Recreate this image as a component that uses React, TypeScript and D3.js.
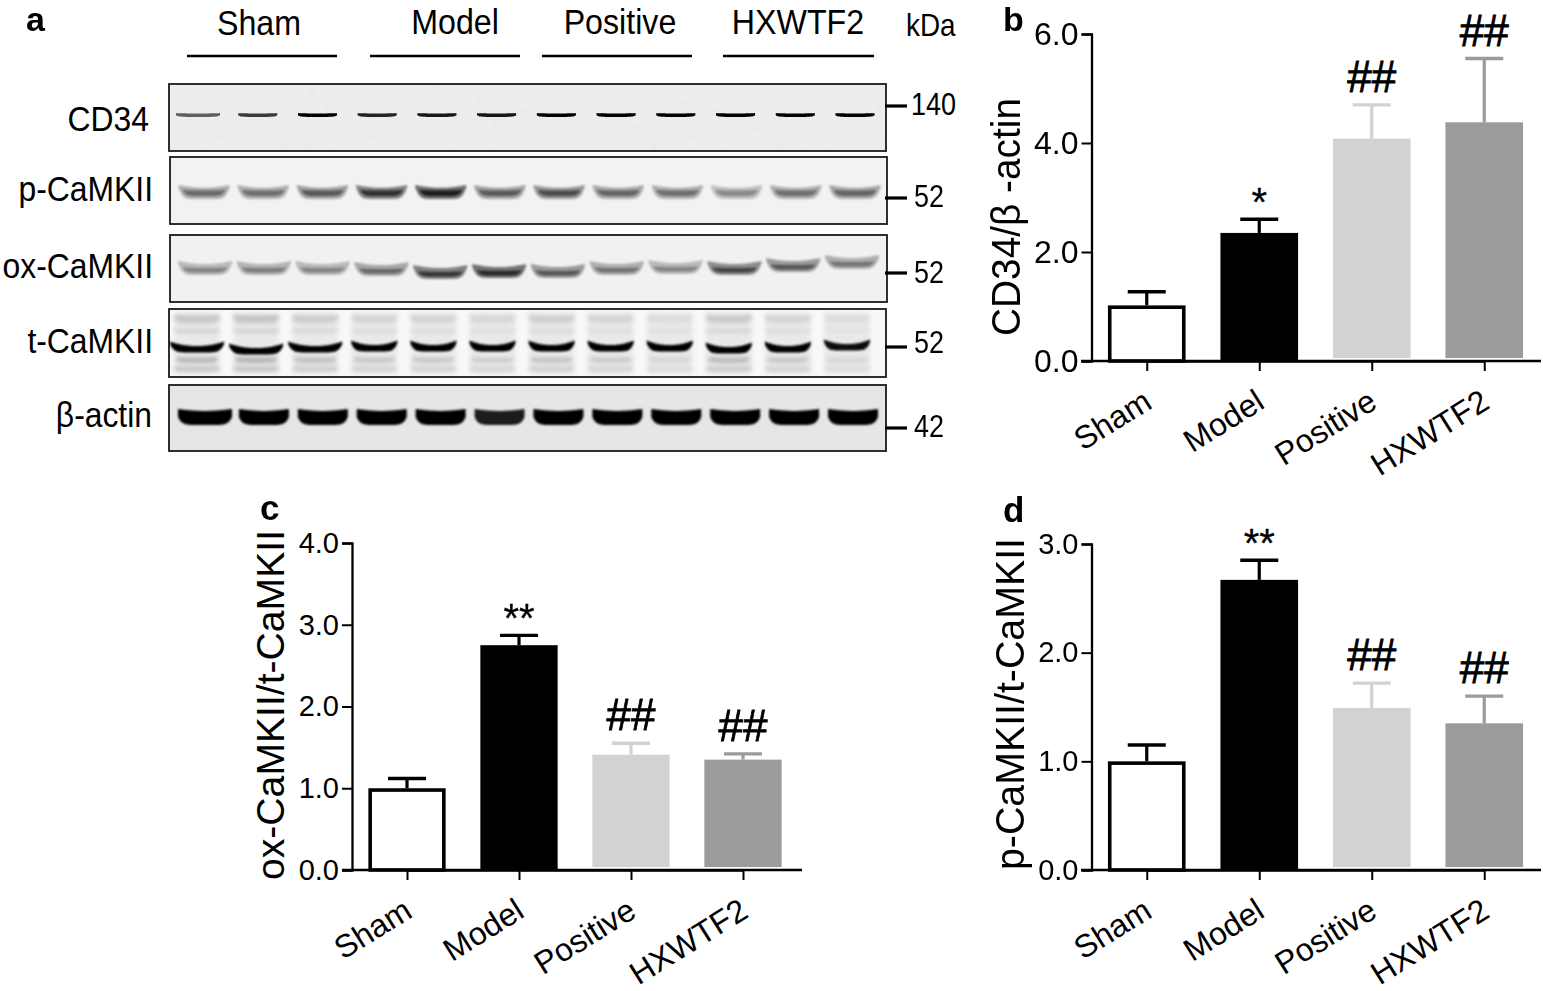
import React, { useEffect, useRef } from "react";
import * as d3 from "d3";

const groups = ["Sham", "Model", "Positive", "HXWTF2"];
const barFills = ["#ffffff", "#000000", "#d2d2d2", "#9b9b9b"];
const barStrokes = ["#000000", "#000000", "#d2d2d2", "#9b9b9b"];

const cd34Means = [1.02, 2.35, 4.08, 4.38];
const cd34Tops = [1.27, 2.6, 4.7, 5.55];
const cd34Marks = ["", "*", "##", "##"];
const cd34Ticks = [0, 2, 4, 6];

const oxMeans = [1.0, 2.75, 1.41, 1.35];
const oxTops = [1.12, 2.87, 1.55, 1.42];
const oxMarks = ["", "**", "##", "##"];
const oxTicks = [0, 1, 2, 3, 4];

const pMeans = [1.0, 2.67, 1.49, 1.35];
const pTops = [1.15, 2.85, 1.72, 1.6];
const pMarks = ["", "**", "##", "##"];
const pTicks = [0, 1, 2, 3];

const blotNames = ["CD34", "p-CaMKII", "ox-CaMKII", "t-CaMKII", "β-actin"];
const blotWeights = ["140", "52", "52", "52", "42"];

const cd34Dark = [0.6, 0.75, 1, 0.85, 0.9, 0.9, 1, 1, 1, 1, 1, 1];
const pDark = [0.52, 0.5, 0.6, 0.85, 1, 0.6, 0.68, 0.55, 0.5, 0.38, 0.5, 0.55];
const oxDark = [0.42, 0.45, 0.42, 0.55, 0.85, 0.95, 0.65, 0.5, 0.42, 0.75, 0.65, 0.5];
const tDark = [1, 1, 1, 1, 1, 1, 1, 1, 1, 1, 1, 0.95];
const tFaint = [0.24, 0.26, 0.2, 0.16, 0.16, 0.14, 0.18, 0.15, 0.1, 0.22, 0.16, 0.09];
const actinDark = [1, 1, 1, 1, 1, 0.88, 1, 1, 1, 1, 1, 1];
const oxShift = [0, 0, 0, 1, 4, 3, 3, 0, -1, 0, -3, -6];
const tShift = [0, 2, 0, -1, -1, -1, -1, -1, -1, 1, 0, -2];

const W = 1543;
const H = 991;
const FONT = "'Liberation Sans', Arial, sans-serif";

const lanes = d3.range(12);
const samples = d3.range(-1, 1.001, 0.05);

function bandPath(cx: number, cy: number, w: number, h: number, sag: number, pinch = 0.85) {
  return d3
    .area<number>()
    .x((t) => cx + (t * w) / 2)
    .y0((t) => cy - h / 2 + h * sag * (1 - t * t))
    .y1((t) => cy + h / 2 - h * pinch * Math.pow(Math.abs(t), 7))
    .curve(d3.curveCatmullRom)(samples) as string;
}

function Axis({ kind, scale, ticks, at, size }: any) {
  const ref = useRef<SVGGElement>(null);
  useEffect(() => {
    const sel = d3.select(ref.current as SVGGElement);
    if (kind === "y") {
      sel.call(
        d3.axisLeft(scale).tickValues(ticks).tickSize(10).tickPadding(3).tickFormat(d3.format(".1f")) as any
      );
    } else {
      sel.call(d3.axisBottom(scale).tickSize(10).tickSizeOuter(0).tickFormat(() => "") as any);
    }
    sel.selectAll("path").attr("stroke", "#000").attr("stroke-width", 2.3);
    sel.selectAll("line").attr("stroke", "#000").attr("stroke-width", 2);
    sel.selectAll("text").attr("font-family", FONT).attr("font-size", size).attr("fill", "#000");
  }, []);
  return <g ref={ref} transform={at} />;
}

function Chart(props: any) {
  const { x0, span, axisX, y0, yTop, maxV, ticks, means, tops, marks, label, labelX, labelY, labelLen, labelSize, tickFont, axisEnd, axisStart, letter, letterX, letterY, letterSize } = props;
  const y = d3.scaleLinear().domain([0, maxV]).range([y0, yTop]);
  const xb = d3
    .scaleBand<string>()
    .domain(groups)
    .range([x0, x0 + span])
    .paddingInner(0.31)
    .paddingOuter(0.155);
  const bw = xb.bandwidth();
  const step = span / 4;
  return (
    <g>
      {groups.map((g, i) => {
        const cx = (xb(g) as number) + bw / 2;
        const solidBottom = i >= 2 ? y0 - 3 : y0;
        const hash = marks[i] && marks[i][0] === "#";
        return (
          <g key={g}>
            <line x1={cx} x2={cx} y1={y(tops[i])} y2={y(means[i])} stroke={barStrokes[i]} strokeWidth={3.2} />
            <line x1={cx - 19} x2={cx + 19} y1={y(tops[i])} y2={y(tops[i])} stroke={barStrokes[i]} strokeWidth={3.4} />
            <rect
              x={(xb(g) as number) + (i === 0 ? 1.8 : 0)}
              y={y(means[i]) + (i === 0 ? 1.8 : 0)}
              width={i === 0 ? bw - 3.6 : bw}
              height={solidBottom - y(means[i]) - (i === 0 ? 1.8 : 0)}
              fill={barFills[i]}
              stroke={i === 0 ? "#000" : "none"}
              strokeWidth={3.6}
            />
            {marks[i] && (
              <text
                x={cx}
                y={y(tops[i]) + (hash ? -13 : -3)}
                textAnchor="middle"
                fontFamily={FONT}
                fontSize={hash ? 44 : 40}
                fill="#000"
                stroke="#000"
                strokeWidth={hash ? 0.8 : 0.3}
              >
                {marks[i]}
              </text>
            )}
            <text
              transform={`translate(${cx + 7},${y0 + 46}) rotate(-32)`}
              textAnchor="end"
              fontFamily={FONT}
              fontSize={32}
              fill="#000"
            >
              {g}
            </text>
          </g>
        );
      })}
      <Axis kind="y" scale={y} ticks={ticks} at={`translate(${axisX},0)`} size={tickFont} />
      <Axis
        kind="x"
        scale={d3.scalePoint<string>().domain(groups).range([x0 + step / 2, x0 + span - step / 2])}
        at={`translate(0,${y0})`}
        size={tickFont}
      />
      <line x1={axisStart} x2={axisEnd} y1={y0} y2={y0} stroke="#000" strokeWidth={2.4} />
      <text
        transform={`translate(${labelX},${labelY}) rotate(-90)`}
        textAnchor="middle"
        fontFamily={FONT}
        fontSize={labelSize}
        textLength={labelLen}
        lengthAdjust="spacingAndGlyphs"
        fill="#000"
      >
        {label}
      </text>
      <text x={letterX} y={letterY} fontFamily={FONT} fontWeight="bold" fontSize={letterSize} fill="#000">
        {letter}
      </text>
    </g>
  );
}

function Frame({ x, y, w, h, bg }: any) {
  return <rect x={x} y={y} width={w} height={h} fill={bg} stroke="#1a1a1a" strokeWidth={1.8} />;
}

function Blots() {
  const laneX = d3.scaleLinear().domain([0, 11]);
  const cd = laneX.copy().range([198, 855]);
  const px = laneX.copy().range([204, 855]);
  const ox = laneX.copy().range([205, 852]);
  const tx = laneX.copy().range([197, 847]);
  const ax = laneX.copy().range([205, 853]);
  return (
    <g>
      <Frame x={169} y={84} w={717} h={67} bg="#eeeeee" />
      <Frame x={170} y={157} w={717} h={67} bg="#f2f2f2" />
      <Frame x={170} y={235} w={717} h={67} bg="#f1f1f1" />
      <Frame x={169} y={309} w={717} h={68} bg="#f8f8f8" />
      <Frame x={169} y={385} w={717} h={66} bg="#e6e6e6" />
      <rect x={170} y={85} width={715} height={65} filter="url(#noise)" opacity={0.06} />
      <g filter="url(#blurThin)">
        {lanes.map((i) => (
          <path key={i} d={bandPath(cd(i), 115, i === 0 ? 44 : 39, 3.8, 0.1, 0.4)} fill="#000" opacity={cd34Dark[i]} />
        ))}
      </g>
      <g filter="url(#blur)">
        {lanes.map((i) => (
          <g key={i}>
            <path d={bandPath(px(i), 192, 51, 14, 0.2)} fill="#000" opacity={pDark[i] * 0.55} />
            <path d={bandPath(px(i), 193, 42, 6, 0.1)} fill="#000" opacity={pDark[i] * 0.75} />
          </g>
        ))}
        {lanes.map((i) => (
          <g key={i}>
            <path d={bandPath(ox(i), 268 + oxShift[i], 54, 14, 0.22)} fill="#000" opacity={oxDark[i] * 0.55} />
            <path d={bandPath(ox(i), 270 + oxShift[i], 44, 5, 0.1)} fill="#000" opacity={oxDark[i] * 0.7} />
          </g>
        ))}
      </g>
      <g filter="url(#blurWide)">
        {lanes.map((i) => (
          <g key={i}>
            <rect x={tx(i) - 23} y={313} width={46} height={61} fill="#000" opacity={0.06} />
            <path d={bandPath(tx(i), 319, 46, 9, 0.05, 0.4)} fill="#000" opacity={tFaint[i] * 0.6} />
            <path d={bandPath(tx(i), 331, 46, 4, 0.05, 0.4)} fill="#000" opacity={tFaint[i] * 0.5} />
            <path d={bandPath(tx(i), 360, 42, 5, 0.05, 0.4)} fill="#000" opacity={tFaint[i] * 1.1} />
            <path d={bandPath(tx(i), 369, 46, 5, 0.05, 0.4)} fill="#000" opacity={tFaint[i] * 0.7} />
          </g>
        ))}
      </g>
      <g filter="url(#blurBand)">
        {lanes.map((i) => (
          <path key={i} d={bandPath(tx(i), 347 + tShift[i], i < 3 ? 54 : 46, 11, 0.42, 0.75)} fill="#000" opacity={tDark[i]} />
        ))}
        {lanes.map((i) => (
          <path key={i} d={bandPath(ax(i), 417, i === 0 ? 54 : 50, 16, 0.12, 0.5)} fill="#000" opacity={actinDark[i]} />
        ))}
      </g>
      {blotNames.map((n, i) => (
        <g key={n}>
          <text
            transform={`translate(${[149, 153, 153, 153, 152][i]},${[131, 201, 278, 353, 427][i]}) scale(0.91,1)`}
            textAnchor="end"
            fontFamily={FONT}
            fontSize={35}
            fill="#000"
          >
            {n}
          </text>
          <line
            x1={885}
            x2={907}
            y1={[106, 198, 273, 347, 428][i]}
            y2={[106, 198, 273, 347, 428][i]}
            stroke="#000"
            strokeWidth={3.2}
          />
          <text
            transform={`translate(${i === 0 ? 911 : 914},${[115, 207, 283, 353, 437][i]}) scale(0.87,1)`}
            fontFamily={FONT}
            fontSize={31}
            fill="#000"
          >
            {blotWeights[i]}
          </text>
        </g>
      ))}
      {groups.map((g, i) => (
        <g key={g}>
          <text
            transform={`translate(${[259, 455, 620, 798][i]},${[35, 34, 34, 34][i]}) scale(0.92,1)`}
            textAnchor="middle"
            fontFamily={FONT}
            fontSize={35}
            fill="#000"
          >
            {g}
          </text>
          <line
            x1={[187, 370, 542, 723][i]}
            x2={[337, 520, 692, 874][i]}
            y1={56}
            y2={56}
            stroke="#000"
            strokeWidth={2.6}
          />
        </g>
      ))}
      <text transform="translate(906,36) scale(0.9,1)" fontFamily={FONT} fontSize={31} fill="#000">
        kDa
      </text>
      <text x={26} y={31} fontFamily={FONT} fontWeight="bold" fontSize={34} fill="#000">
        a
      </text>
    </g>
  );
}

export default function App() {
  return (
    <svg
      width={W}
      height={H}
      viewBox={`0 0 ${W} ${H}`}
      style={{ position: "absolute", left: 0, top: 0, background: "#fff" }}
    >
      <defs>
        <filter id="blurThin" x="-20%" y="-50%" width="140%" height="200%">
          <feGaussianBlur stdDeviation="0.7" />
        </filter>
        <filter id="blurBand" x="-20%" y="-50%" width="140%" height="200%">
          <feGaussianBlur stdDeviation="1" />
        </filter>
        <filter id="blur" x="-20%" y="-50%" width="140%" height="200%">
          <feGaussianBlur stdDeviation="1.3" />
        </filter>
        <filter id="blurWide" x="-20%" y="-50%" width="140%" height="200%">
          <feGaussianBlur stdDeviation="2" />
        </filter>
        <filter id="noise" x="0" y="0" width="100%" height="100%">
          <feTurbulence type="fractalNoise" baseFrequency="0.12" numOctaves="2" seed="4" />
          <feColorMatrix type="saturate" values="0" />
        </filter>
      </defs>
      <rect width={W} height={H} fill="#fff" />
      <Blots />
      <Chart
        x0={1090.5}
        span={450}
        axisX={1091.5}
        y0={361}
        yTop={34}
        maxV={6}
        ticks={cd34Ticks}
        means={cd34Means}
        tops={cd34Tops}
        marks={cd34Marks}
        label="CD34/β -actin"
        labelX={1020}
        labelY={217}
        labelLen={238}
        labelSize={40}
        tickFont={32}
        axisStart={1081}
        axisEnd={1541}
        letter="b"
        letterX={1003}
        letterY={31}
        letterSize={34}
      />
      <Chart
        x0={351}
        span={448}
        axisX={352}
        y0={870}
        yTop={543}
        maxV={4}
        ticks={oxTicks}
        means={oxMeans}
        tops={oxTops}
        marks={oxMarks}
        label="ox-CaMKII/t-CaMKII"
        labelX={284}
        labelY={705}
        labelLen={350}
        labelSize={38}
        tickFont={29}
        axisStart={342}
        axisEnd={802}
        letter="c"
        letterX={260}
        letterY={520}
        letterSize={35}
      />
      <Chart
        x0={1090.5}
        span={450}
        axisX={1091.5}
        y0={870}
        yTop={544}
        maxV={3}
        ticks={pTicks}
        means={pMeans}
        tops={pTops}
        marks={pMarks}
        label="p-CaMKII/t-CaMKII"
        labelX={1024}
        labelY={704}
        labelLen={332}
        labelSize={40}
        tickFont={29}
        axisStart={1081}
        axisEnd={1541}
        letter="d"
        letterX={1003}
        letterY={522}
        letterSize={35}
      />
    </svg>
  );
}
